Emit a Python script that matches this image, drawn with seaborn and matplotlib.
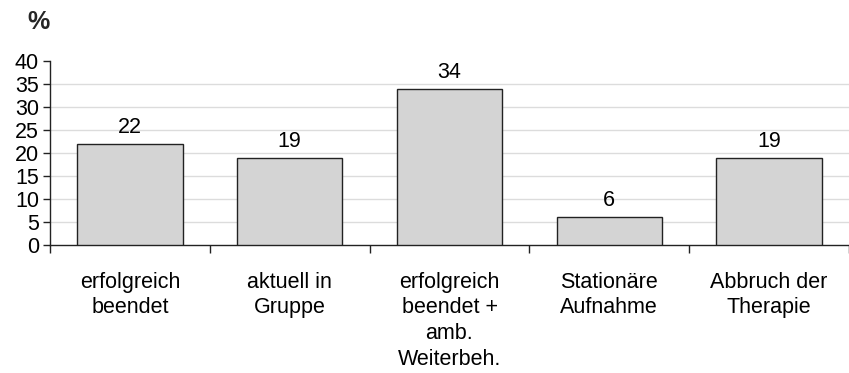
import matplotlib
matplotlib.use("Agg")
import matplotlib.pyplot as plt
import seaborn as sns
import pandas as pd

categories = ["erfolgreich\nbeendet", "aktuell in\nGruppe", "erfolgreich\nbeendet +\namb.\nWeiterbeh.",
              "Stationäre\nAufnahme", "Abbruch der\nTherapie"]
values = [22, 19, 34, 6, 19]
yticks = [0, 5, 10, 15, 20, 25, 30, 35, 40]

sns.set_style("white")
plt.rcParams["font.family"] = ["Liberation Sans", "DejaVu Sans"]

df = pd.DataFrame({"cat": categories, "val": values})

fig = plt.figure(figsize=(8.49, 3.73), dpi=100)
ax = fig.add_axes([50 / 849, (373 - 245) / 373, 799 / 849, (245 - 61) / 373])

sns.barplot(data=df, x="cat", y="val", ax=ax, color="#d4d4d4", edgecolor="#222222",
            linewidth=1.0, width=0.66, saturation=1, zorder=3)

ax.set_ylim(0, 40)
ax.set_xlim(-0.5, len(categories) - 0.5)
ax.set_yticks(yticks)
ax.set_yticklabels([str(t) for t in yticks], fontsize=15.5)
for t in yticks[1:-1]:
    ax.axhline(t, color="#dcdcdc", linewidth=1, zorder=1)

ax.set_xticks([i - 0.5 for i in range(len(categories) + 1)])
ax.set_xticklabels([])
ax.tick_params(axis="x", direction="out", length=6, width=1, colors="#222222", bottom=True)
ax.tick_params(axis="y", direction="out", length=5, width=1, colors="#222222", left=True, pad=3,
               labelcolor="black")
for i, c in enumerate(categories):
    ax.text(i, -0.145, c, transform=ax.get_xaxis_transform(), ha="center", va="top",
            fontsize=15.5, linespacing=1.3, color="black")

for spine in ["top", "right"]:
    ax.spines[spine].set_visible(False)
for spine in ["left", "bottom"]:
    ax.spines[spine].set_color("#222222")
    ax.spines[spine].set_linewidth(1)

for i, v in enumerate(values):
    ax.text(i, v + 1.3, str(v), ha="center", va="bottom", fontsize=15.5, color="black")

ax.set_xlabel("")
ax.set_ylabel("")
fig.text(27 / 849, 1 - 22 / 373, "%", fontsize=18, fontweight="bold", ha="left", va="center")

fig.savefig("out.png", dpi=100)
